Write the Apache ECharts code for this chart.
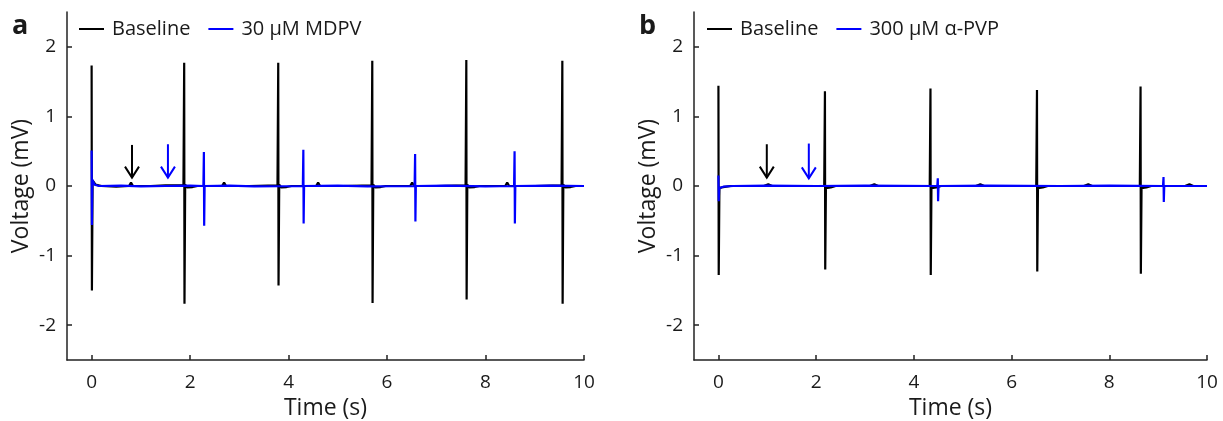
<!DOCTYPE html>
<html>
<head>
<meta charset="utf-8">
<script src="https://cdn.jsdelivr.net/npm/echarts@6/dist/echarts.min.js"></script>
<style>
html,body{margin:0;padding:0;background:#fff;}
#chart{width:1223px;height:421px;}
</style>
</head>
<body>
<div id="chart"></div>
<script>
// ---- Data ----
const xTicks = [0, 2, 4, 6, 8, 10];
const yTicks = [-2, -1, 0, 1, 2];
const xRange = [-0.5, 10];
const yRange = [-2.5, 2.5];

const namesA = ['Baseline', '30 µM MDPV'];
const namesB = ['Baseline', '300 µM α-PVP'];

// Panel a – Baseline trace [time s, voltage mV]
const aBaseline = [
  [0.000, 1.73], [0.006, -1.50], [0.02, 0.08], [0.08, 0.02], [0.2, 0.0], [0.5, -0.01],
  [0.76, 0.0], [0.80, 0.05], [0.84, 0.0], [1.2, 0.0], [1.5, 0.01], [1.865, 0.01],
  [1.88, 1.77], [1.886, -1.69], [1.90, 0.02], [1.94, -0.02], [2.05, -0.015], [2.15, 0.0],
  [2.65, 0.0], [2.69, 0.05], [2.73, 0.0], [3.2, 0.0], [3.775, 0.01],
  [3.79, 1.77], [3.796, -1.43], [3.81, 0.02], [3.85, -0.02], [3.96, -0.015], [4.06, 0.0],
  [4.56, 0.0], [4.60, 0.05], [4.64, 0.0], [5.1, 0.0], [5.685, 0.01],
  [5.70, 1.80], [5.706, -1.68], [5.72, 0.02], [5.76, -0.02], [5.87, -0.015], [5.97, 0.0],
  [6.47, 0.0], [6.51, 0.05], [6.55, 0.0], [7.0, 0.0], [7.595, 0.01],
  [7.61, 1.81], [7.616, -1.63], [7.63, 0.02], [7.67, -0.02], [7.78, -0.015], [7.88, 0.0],
  [8.40, 0.0], [8.44, 0.05], [8.48, 0.0], [9.0, 0.0], [9.545, 0.01],
  [9.56, 1.80], [9.566, -1.69], [9.58, 0.02], [9.62, -0.02], [9.73, -0.015], [9.83, 0.0], [10.0, 0.0]
];
// Panel a – 30 µM MDPV trace
const aDrug = [
  [0.0, 0.51], [0.006, -0.56], [0.015, 0.09], [0.06, 0.02], [0.15, 0.0], [0.6, 0.005],
  [1.0, -0.005], [1.5, 0.0], [2.0, 0.005], [2.27, 0.0],
  [2.28, 0.49], [2.286, -0.57], [2.295, 0.0], [2.8, 0.005], [3.3, -0.005], [4.29, 0.0],
  [4.30, 0.52], [4.306, -0.54], [4.315, 0.0], [5.0, 0.005], [5.6, -0.005], [6.56, 0.0],
  [6.57, 0.46], [6.576, -0.51], [6.585, 0.0], [7.2, 0.005], [8.0, -0.005], [8.58, 0.0],
  [8.59, 0.50], [8.596, -0.54], [8.605, 0.0], [9.3, 0.005], [10.0, 0.0]
];
// Panel b – Baseline trace
const bBaseline = [
  [0.0, 1.44], [0.006, -1.28], [0.02, -0.03], [0.1, -0.015], [0.25, 0.0],
  [0.93, 0.0], [0.97, -0.025], [1.02, 0.025], [1.1, 0.0], [1.6, 0.0], [2.165, 0.0],
  [2.18, 1.36], [2.186, -1.20], [2.20, -0.03], [2.3, -0.02], [2.4, 0.0],
  [3.10, 0.0], [3.14, -0.025], [3.19, 0.025], [3.27, 0.0], [3.8, 0.0], [4.325, 0.0],
  [4.34, 1.40], [4.346, -1.28], [4.36, -0.03], [4.46, -0.02], [4.56, 0.0],
  [5.27, 0.0], [5.31, -0.025], [5.36, 0.025], [5.44, 0.0], [6.0, 0.0], [6.505, 0.0],
  [6.52, 1.38], [6.526, -1.23], [6.54, -0.03], [6.64, -0.02], [6.74, 0.0],
  [7.48, 0.0], [7.52, -0.025], [7.57, 0.025], [7.65, 0.0], [8.1, 0.0], [8.625, 0.0],
  [8.64, 1.43], [8.646, -1.26], [8.66, -0.03], [8.76, -0.02], [8.86, 0.0],
  [9.55, 0.0], [9.59, -0.025], [9.64, 0.025], [9.72, 0.0], [10.0, 0.0]
];
// Panel b – 300 µM α-PVP trace
const bDrug = [
  [0.0, 0.15], [0.006, -0.22], [0.015, -0.03], [0.1, -0.01], [0.3, 0.0], [1.0, 0.005],
  [2.0, 0.0], [3.0, 0.005], [4.48, 0.0],
  [4.49, 0.11], [4.496, -0.22], [4.505, 0.0], [5.5, 0.005], [7.0, 0.0], [8.0, 0.005], [9.10, 0.0],
  [9.11, 0.13], [9.116, -0.23], [9.125, 0.0], [10.0, 0.0]
];
// Arrows: [time, start voltage, tip voltage]
const aArrowBase = [[0.82, 0.59, 0.12]];
const aArrowDrug = [[1.55, 0.60, 0.12]];
const bArrowBase = [[0.99, 0.60, 0.12]];
const bArrowDrug = [[1.85, 0.61, 0.11]];

// ---- Styling ----
const FONT = '"Open Sans", sans-serif';
const TXT = '#1a1a1a';
const BLACK = '#000000';
const BLUE = '#0000ff';

function xAxis(gi) {
  return {
    type: 'value', gridIndex: gi, min: xRange[0], max: xRange[1],
    name: 'Time (s)', nameLocation: 'middle', nameGap: 37,
    nameTextStyle: {fontFamily: FONT, fontSize: 23, color: TXT},
    axisLine: {show: true, onZero: false, lineStyle: {color: '#222', width: 1.5}},
    axisTick: {show: true, inside: true, length: 5, customValues: xTicks, lineStyle: {color: '#222', width: 1.5}},
    axisLabel: {customValues: xTicks, fontFamily: FONT, fontSize: 19, color: TXT, margin: 13},
    splitLine: {show: false}
  };
}
function yAxis(gi) {
  return {
    type: 'value', gridIndex: gi, min: yRange[0], max: yRange[1],
    name: 'Voltage (mV)', nameLocation: 'middle', nameGap: 34,
    nameTextStyle: {fontFamily: FONT, fontSize: 23, color: TXT},
    axisLine: {show: true, onZero: false, lineStyle: {color: '#222', width: 1.5}},
    axisTick: {show: true, inside: true, length: 5, customValues: yTicks, lineStyle: {color: '#222', width: 1.5}},
    axisLabel: {customValues: yTicks, fontFamily: FONT, fontSize: 19, color: TXT, margin: 11},
    splitLine: {show: false}
  };
}
function trace(name, data, gi, color) {
  return {
    type: 'line', name: name, data: data, xAxisIndex: gi, yAxisIndex: gi,
    showSymbol: false, symbol: 'none', animation: false, clip: true,
    lineStyle: {color: color, width: 2.2, join: 'bevel'}, itemStyle: {color: color}
  };
}
function arrow(data, gi, color) {
  return {
    type: 'custom', xAxisIndex: gi, yAxisIndex: gi, data: data, animation: false,
    encode: {x: 0, y: [1, 2]},
    renderItem: function (params, api) {
      const p1 = api.coord([api.value(0), api.value(1)]);
      const p2 = api.coord([api.value(0), api.value(2)]);
      const st = {stroke: color, lineWidth: 2, fill: null};
      return {
        type: 'group', children: [
          {type: 'line', shape: {x1: p1[0], y1: p1[1], x2: p2[0], y2: p2[1]}, style: st},
          {type: 'polyline', shape: {points: [[p2[0] - 7, p2[1] - 11], [p2[0], p2[1]], [p2[0] + 7, p2[1] - 11]]}, style: st}
        ]
      };
    }
  };
}
function legend(names, left) {
  return {
    data: names, left: left, top: 14, orient: 'horizontal',
    icon: 'rect', itemWidth: 25, itemHeight: 2, itemGap: 18, selectedMode: false,
    textStyle: {fontFamily: FONT, fontSize: 20, color: TXT, padding: [0, 0, 0, 3]}
  };
}

const chart = echarts.init(document.getElementById('chart'), null, {renderer: 'canvas'});
chart.setOption({
  backgroundColor: '#ffffff',
  animation: false,
  title: [
    {text: 'a', left: 7, top: 8, textStyle: {fontFamily: FONT, fontSize: 27, fontWeight: 'bold', color: TXT}},
    {text: 'b', left: 634, top: 8, textStyle: {fontFamily: FONT, fontSize: 27, fontWeight: 'bold', color: TXT}}
  ],
  grid: [
    {left: 67, top: 12, width: 517, height: 348, containLabel: false, outerBoundsMode: 'none'},
    {left: 694, top: 12, width: 513, height: 348, containLabel: false, outerBoundsMode: 'none'}
  ],
  legend: [legend(namesA, 74), legend(namesB, 702)],
  xAxis: [xAxis(0), xAxis(1)],
  yAxis: [yAxis(0), yAxis(1)],
  series: [
    trace(namesA[0], aBaseline, 0, BLACK),
    trace(namesA[1], aDrug, 0, BLUE),
    trace(namesB[0], bBaseline, 1, BLACK),
    trace(namesB[1], bDrug, 1, BLUE),
    arrow(aArrowBase, 0, BLACK),
    arrow(aArrowDrug, 0, BLUE),
    arrow(bArrowBase, 1, BLACK),
    arrow(bArrowDrug, 1, BLUE)
  ]
});
</script>
</body>
</html>
